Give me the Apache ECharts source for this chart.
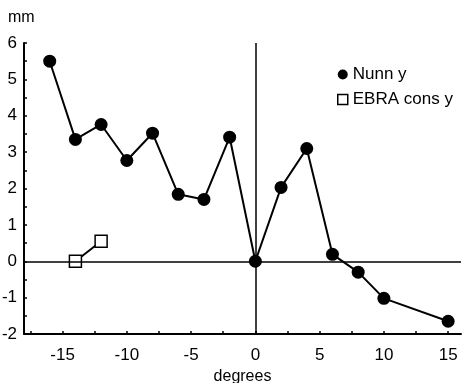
<!DOCTYPE html>
<html>
<head>
<meta charset="utf-8">
<script src="https://cdn.jsdelivr.net/npm/echarts@6/dist/echarts.min.js"></script>
<style>
  html, body { margin: 0; padding: 0; background: #fff; }
  #chart { width: 467px; height: 383px; }
</style>
</head>
<body>
<div id="chart"></div>
<script>
// data
var nunnX = [-16, -14, -12, -10, -8, -6, -4, -2, 0, 2, 4, 6, 8, 10, 15]
var nunnY = [5.5, 3.35, 3.76, 2.77, 3.52, 1.84, 1.7, 3.41, 0, 2.03, 3.1, 0.19, -0.3, -1.02, -1.65]
var ebraX = [-14, -12]
var ebraY = [0, 0.55]
var xTickValues = [-17.5, -15, -12.5, -10, -7.5, -5, -2.5, 0, 2.5, 5, 7.5, 10, 12.5, 15]
var xLabelValues = [-15, -10, -5, 0, 5, 10, 15]

var font = "'Liberation Sans', Arial, sans-serif"

function pairs (xs, ys) {
  return xs.map(function (x, i) { return [x, ys[i]] })
}

var chart = echarts.init(document.getElementById('chart'))
chart.setOption({
  animation: false,
  textStyle: { fontFamily: font },
  title: {
    text: 'mm',
    left: 3,
    top: 5,
    textStyle: { fontSize: 16, fontWeight: 'normal', color: '#000', fontFamily: font }
  },
  legend: {
    orient: 'vertical',
    left: 332,
    top: 61,
    itemWidth: 10,
    itemHeight: 10,
    itemGap: 8,
    textStyle: { fontSize: 17, color: '#000', fontFamily: font },
    data: [
      { name: 'Nunn y', icon: 'circle' },
      { name: 'EBRA cons y', icon: 'rect', itemStyle: { color: '#fff', borderColor: '#000', borderWidth: 1.5 } }
    ]
  },
  grid: { left: 24, right: 6, top: 43, bottom: 49, outerBoundsMode: 'none', containLabel: false },
  xAxis: {
    type: 'value',
    min: -18,
    max: 16,
    name: 'degrees',
    nameLocation: 'middle',
    nameGap: 31,
    nameTextStyle: { fontSize: 16, color: '#000', fontFamily: font },
    axisLine: { onZero: false, lineStyle: { color: '#000', width: 2 } },
    axisTick: { inside: true, length: 3, customValues: xTickValues, lineStyle: { color: '#000', width: 1.5 } },
    axisLabel: { customValues: xLabelValues, fontSize: 17, color: '#000', margin: 13, fontFamily: font },
    splitLine: { show: false }
  },
  yAxis: {
    type: 'value',
    min: -2,
    max: 6,
    interval: 1,
    axisLine: { show: true, onZero: false, lineStyle: { color: '#000', width: 2 } },
    axisTick: { inside: true, length: 3, lineStyle: { color: '#000', width: 1.5 } },
    minorTick: { show: true, splitNumber: 2, length: 3, lineStyle: { color: '#000', width: 1.5 } },
    axisLabel: { fontSize: 17, color: '#000', margin: 7, fontFamily: font },
    splitLine: { show: false }
  },
  series: [
    {
      name: 'Nunn y',
      type: 'line',
      data: pairs(nunnX, nunnY),
      symbol: 'circle',
      symbolSize: 13,
      itemStyle: { color: '#000' },
      lineStyle: { color: '#000', width: 2 },
      z: 3,
      markLine: {
        silent: true,
        symbol: 'none',
        label: { show: false },
        lineStyle: { color: '#000', width: 1.5, type: 'solid' },
        data: [{ yAxis: 0 }, { xAxis: 0 }]
      }
    },
    {
      name: 'EBRA cons y',
      type: 'line',
      data: pairs(ebraX, ebraY),
      symbol: 'rect',
      symbolSize: 12,
      itemStyle: { color: '#fff', borderColor: '#000', borderWidth: 1.5 },
      lineStyle: { color: '#000', width: 2 },
      z: 4
    }
  ]
})
</script>
</body>
</html>
